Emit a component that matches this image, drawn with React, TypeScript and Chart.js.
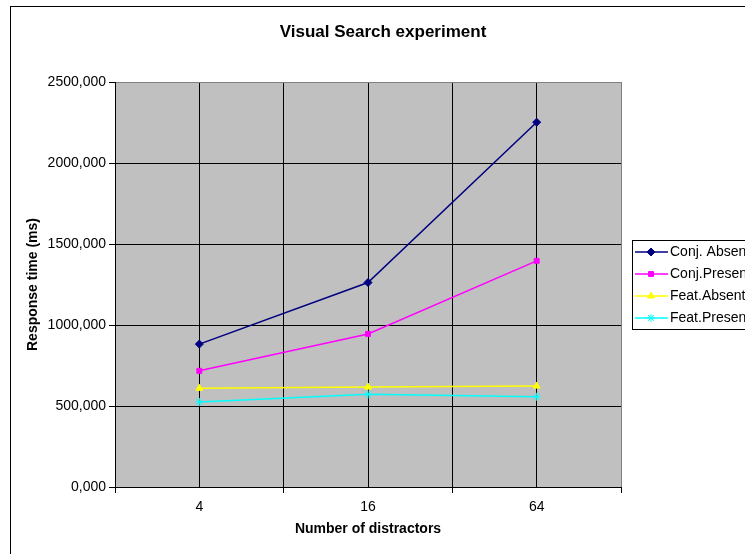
import React, { useEffect, useRef } from 'react';
import { Chart, registerables } from 'chart.js';
import { drawPoint } from 'chart.js/helpers';

Chart.register(...registerables);

// Number of distractors shown on the horizontal axis
const categories = ['4', '16', '64'];

// Mean response times (ms) for each condition
const conjAbsent = [882, 1262, 2252];
const conjPresent = [717, 945, 1396];
const featAbsent = [609, 617, 623];
const featPresent = [525, 572, 557];

const seriesLabels = ['Conj. Absent', 'Conj.Present', 'Feat.Absent', 'Feat.Present'];

const yMin = 0;
const yMax = 2500;
const yStep = 500;

const chartTitle = 'Visual Search experiment';
const xTitle = 'Number of distractors';
const yTitle = 'Response time (ms)';

const FONT = '"Liberation Sans", Arial, Helvetica, sans-serif';

const toPoints = (values: number[]) => values.map((v, i) => ({ x: i, y: v }));

const isWhole = (v: number) => Math.abs(v - Math.round(v)) < 1e-9;

// White page, grey plot area and the outer frame of the chart object
const backgroundPlugin = {
  id: 'sheetBackground',
  beforeDraw(chart: any) {
    const { ctx, chartArea } = chart;
    ctx.save();
    ctx.fillStyle = '#ffffff';
    ctx.fillRect(0, 0, chart.width, chart.height);
    ctx.fillStyle = '#c0c0c0';
    ctx.fillRect(chartArea.left, chartArea.top, chartArea.right - chartArea.left, chartArea.bottom - chartArea.top);
    ctx.strokeStyle = '#000000';
    ctx.lineWidth = 1;
    ctx.strokeRect(10.5, 6.5, 746, 620);
    ctx.fillStyle = '#000000';
    ctx.font = `bold 17px ${FONT}`;
    ctx.textAlign = 'center';
    ctx.textBaseline = 'middle';
    ctx.fillText(chartTitle, 383, 32);
    ctx.restore();
  },
};

// Legend box to the right of the plot: line sample with marker, then the series name
const sideLegendPlugin = {
  id: 'sideLegend',
  afterDraw(chart: any) {
    const { ctx, chartArea } = chart;
    const x0 = chartArea.right + 11;
    const mid = (chartArea.top + chartArea.bottom) / 2;
    const y0 = Math.round(mid - 44.5);
    ctx.save();
    ctx.fillStyle = '#ffffff';
    ctx.fillRect(x0, y0, 220, 89);
    ctx.strokeStyle = '#000000';
    ctx.lineWidth = 1;
    ctx.strokeRect(x0 + 0.5, y0 + 0.5, 220, 89);
    chart.data.datasets.forEach((ds: any, i: number) => {
      const y = y0 + 12 + i * 22;
      ctx.strokeStyle = ds.borderColor;
      ctx.lineWidth = ds.borderWidth;
      ctx.beginPath();
      ctx.moveTo(x0 + 3, y);
      ctx.lineTo(x0 + 36, y);
      ctx.stroke();
      ctx.fillStyle = ds.pointBackgroundColor;
      ctx.strokeStyle = ds.pointBorderColor;
      ctx.lineWidth = 1;
      drawPoint(ctx, { pointStyle: ds.pointStyle, radius: ds.pointRadius, rotation: 0, borderWidth: 1 }, x0 + 19, y);
      ctx.fillStyle = '#000000';
      ctx.font = `14px ${FONT}`;
      ctx.textAlign = 'left';
      ctx.textBaseline = 'middle';
      ctx.fillText(ds.label, x0 + 38, y);
    });
    ctx.restore();
  },
};

function makeSeries(label: string, values: number[], color: string, pointStyle: string, radius: number) {
  return {
    label,
    data: toPoints(values),
    borderColor: color,
    backgroundColor: color,
    pointBackgroundColor: color,
    pointBorderColor: color,
    borderWidth: 1.5,
    pointStyle,
    pointRadius: radius,
    pointBorderWidth: 1,
    tension: 0,
  };
}

export default function App() {
  const canvasRef = useRef<HTMLCanvasElement | null>(null);

  useEffect(() => {
    if (!canvasRef.current) return;
    const chart = new Chart(canvasRef.current, {
      type: 'line',
      data: {
        datasets: [
          makeSeries(seriesLabels[0], conjAbsent, '#000080', 'rectRot', 4),
          makeSeries(seriesLabels[1], conjPresent, '#ff00ff', 'rect', 3.5),
          makeSeries(seriesLabels[2], featAbsent, '#ffff00', 'triangle', 4),
          makeSeries(seriesLabels[3], featPresent, '#00ffff', 'star', 4),
        ] as any,
      },
      options: {
        responsive: false,
        animation: false,
        layout: { padding: { top: 82, left: 0, right: 124, bottom: 0 } },
        plugins: {
          legend: { display: false },
          title: { display: false },
          tooltip: { enabled: false },
        },
        scales: {
          x: {
            type: 'linear',
            min: -0.5,
            max: categories.length - 0.5,
            afterFit: (scale: any) => {
              scale.height = 67;
            },
            ticks: {
              stepSize: 0.5,
              padding: 6,
              color: '#000000',
              font: { family: FONT, size: 14 },
              maxRotation: 0,
              autoSkip: false,
              callback: (value: any) => {
                const v = Number(value);
                return isWhole(v) ? categories[Math.round(v)] ?? '' : '';
              },
            },
            grid: {
              color: (ctx: any) => (ctx.tick && Math.abs(ctx.tick.value - (categories.length - 0.5)) < 1e-9 ? '#808080' : '#000000'),
              lineWidth: 1,
              tickLength: 6,
              tickColor: (ctx: any) => (ctx.tick && isWhole(ctx.tick.value) ? 'rgba(0,0,0,0)' : '#000000'),
            },
            border: { display: true, color: '#000000', width: 1 },
            title: {
              display: true,
              text: xTitle,
              color: '#000000',
              font: { family: FONT, size: 14, weight: 'bold' },
              padding: { top: 0, bottom: 16.6 },
            },
          },
          y: {
            type: 'linear',
            min: yMin,
            max: yMax,
            afterFit: (scale: any) => {
              scale.width = 115;
            },
            ticks: {
              stepSize: yStep,
              padding: 3,
              color: '#000000',
              font: { family: FONT, size: 14 },
              callback: (value: any) => Number(value).toFixed(3).replace('.', ','),
            },
            grid: {
              color: (ctx: any) => (ctx.tick && ctx.tick.value === yMax ? '#808080' : '#000000'),
              lineWidth: 1,
              tickLength: 6,
              tickColor: '#000000',
            },
            border: { display: true, color: '#000000', width: 1 },
            title: {
              display: true,
              text: yTitle,
              color: '#000000',
              font: { family: FONT, size: 14, weight: 'bold' },
              padding: { top: 24.6, bottom: 0 },
            },
          },
        },
      } as any,
      plugins: [backgroundPlugin, sideLegendPlugin],
    });
    return () => chart.destroy();
  }, []);

  return (
    <div style={{ position: 'fixed', left: 0, top: 0, width: 745, height: 554, overflow: 'hidden', background: '#fff' }}>
      <canvas ref={canvasRef} width={745} height={554} style={{ display: 'block', width: 745, height: 554 }} />
    </div>
  );
}
